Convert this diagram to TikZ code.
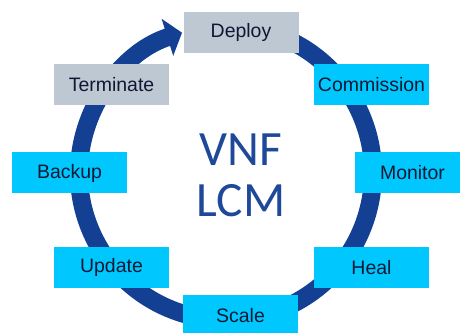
\documentclass[tikz,border=0pt]{standalone}
\usepackage{fontspec}
\setmainfont{Liberation Sans}
\newfontfamily\lcmfont{Carlito}
\usetikzlibrary{arrows.meta}
\definecolor{ringblue}{RGB}{19,64,146}
\definecolor{stagecyan}{RGB}{0,200,255}
\definecolor{stagegrey}{RGB}{190,200,211}
\definecolor{stageink}{RGB}{14,24,52}
\definecolor{lcmblue}{RGB}{30,72,152}
\tikzset{
  stage/.style={fill=stagecyan, minimum width=86.25pt, minimum height=30.75pt,
    inner sep=0pt, text=stageink, font=\fontsize{14.6}{16}\selectfont},
  donestage/.style={stage, fill=stagegrey},
  lifering/.style={draw=ringblue, line width=13.5pt,
    -{Triangle[width=28.5pt, length=11.5pt]}}
}

\begin{document}
\begin{tikzpicture}[x=0.75pt, y=0.75pt]
\useasboundingbox (0,0) rectangle (460,332);
\coordinate (hub) at (226,159);
\draw[lifering] (hub) ++(80:147) arc[start angle=80, end angle=-252.6, radius=147];
\path (241,299.5) node[donestage] (deploy) {Deploy}
++(130.5,-52) node[stage] (commission) {Commission}
++(41,-88.5) node[stage] (monitor) {Monitor}
++(-41,-94.5) node[stage] (heal) {Heal}
++(-131,-48) node[stage] (scale) {Scale}
++(-129,48.5) node[stage] (update) {Update}
++(-42,94) node[stage] (backup) {Backup}
++(42,88.5) node[donestage] (terminate) {Terminate};
\node[align=center, inner sep=0pt, text=lcmblue,
  font=\lcmfont\fontsize{37}{38.25}\selectfont] (vnflcm) at (241,157) {VNF\\LCM};
\end{tikzpicture}
\end{document}
